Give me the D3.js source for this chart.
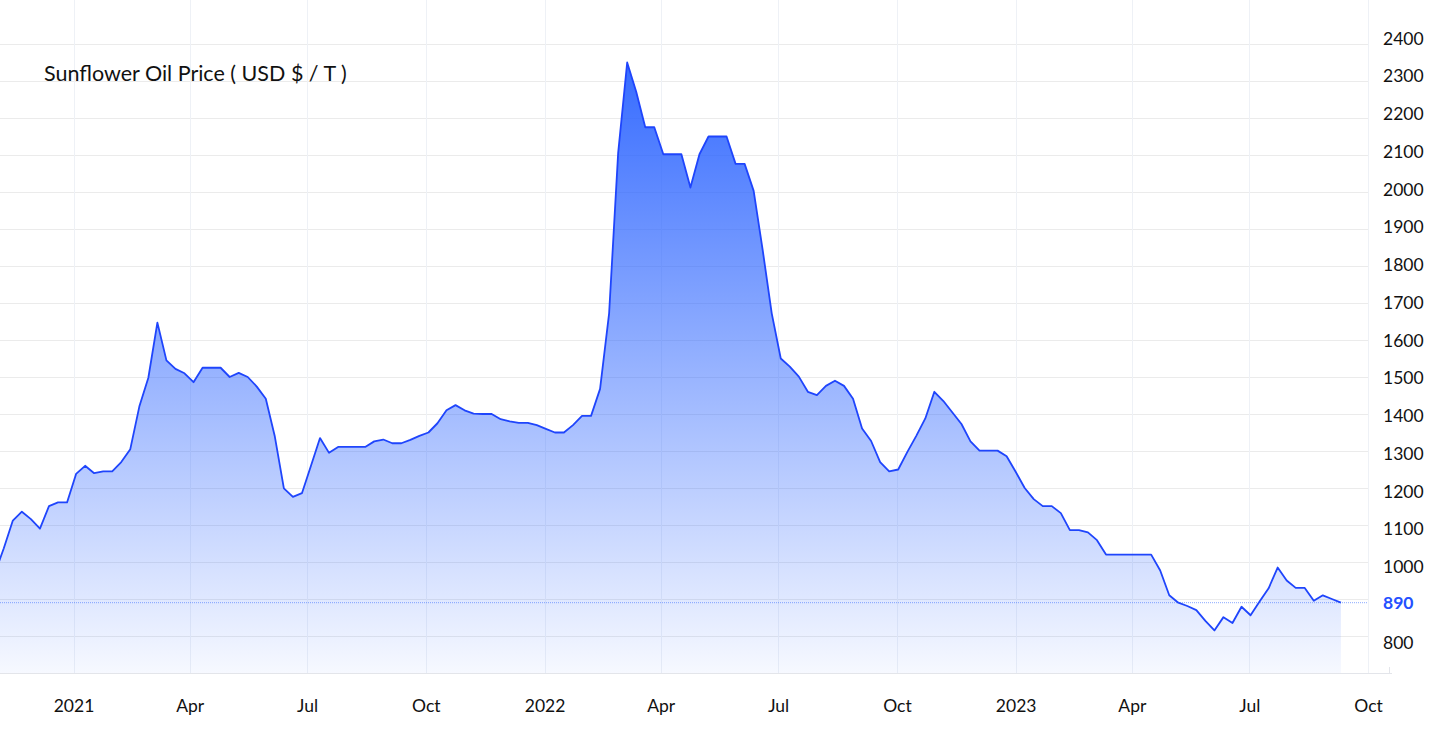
<!DOCTYPE html>
<html>
<head>
<meta charset="utf-8">
<script src="https://cdn.jsdelivr.net/npm/d3@7"></script>
<style>
  html, body { margin: 0; padding: 0; background: #ffffff; }
  svg { display: block; font-family: Lato, "Open Sans", sans-serif; }
</style>
</head>
<body>
<svg id="chart" width="1433" height="730"></svg>
<script>
// ---- data (weekly observations, first week starting 2020-11-01) ----
const startDate = "2020-11-01";
const prices = [
  970, 1037, 1112, 1136, 1116, 1090, 1151, 1161, 1161, 1238,
  1260, 1240, 1245, 1245, 1270, 1305, 1420, 1498, 1647, 1545,
  1522, 1510, 1486, 1525, 1525, 1525, 1500, 1511, 1500, 1474,
  1441, 1339, 1199, 1176, 1186, 1260, 1335, 1295, 1311, 1311,
  1311, 1311, 1326, 1331, 1321, 1321, 1330, 1341, 1350, 1375,
  1410, 1424, 1410, 1401, 1400, 1400, 1386, 1380, 1376, 1376,
  1370, 1360, 1350, 1350, 1370, 1395, 1395, 1468, 1672, 2105,
  2350, 2271, 2175, 2175, 2102, 2102, 2102, 2012, 2102, 2150,
  2150, 2150, 2076, 2076, 2003, 1843, 1672, 1550, 1528, 1501,
  1460, 1451, 1476, 1490, 1476, 1441, 1361, 1327, 1270, 1245,
  1250, 1297, 1341, 1388, 1460, 1435, 1404, 1373, 1326, 1301,
  1301, 1301, 1286, 1244, 1200, 1170, 1151, 1151, 1132, 1086,
  1086, 1080, 1059, 1020, 1020, 1020, 1020, 1020, 1020, 977,
  910, 890, 881, 870, 841, 815, 851, 835, 879, 856,
  893, 929, 985, 950, 930, 930, 895, 910, 900, 890
];
const yTicks = [800, 900, 1000, 1100, 1200, 1300, 1400, 1500, 1600, 1700, 1800, 1900, 2000, 2100, 2200, 2300, 2400];
const yLabelTicks = [800, 1000, 1100, 1200, 1300, 1400, 1500, 1600, 1700, 1800, 1900, 2000, 2100, 2200, 2300, 2400];
const xTickDates = ["2021-01-01", "2021-04-01", "2021-07-01", "2021-10-01", "2022-01-01", "2022-04-01",
                    "2022-07-01", "2022-10-01", "2023-01-01", "2023-04-01", "2023-07-01", "2023-10-01"];
const xTickLabels = ["2021", "Apr", "Jul", "Oct", "2022", "Apr", "Jul", "Oct", "2023", "Apr", "Jul", "Oct"];
const titleText = "Sunflower Oil Price ( USD $ / T )";
const lastValue = 890;

// ---- build table ----
const parse = d3.utcParse("%Y-%m-%d");
const t0 = parse(startDate);
const data = prices.map((v, i) => ({ date: d3.utcDay.offset(t0, 7 * i), value: v }));

// ---- layout ----
const svg = d3.select("#chart");
const plotLeft = 0, plotRight = 1368, plotTop = 0, plotBottom = 673;

const x = d3.scaleUtc()
  .domain([parse("2021-01-01"), parse("2023-10-01")])
  .range([73.5, 1368]);
const y = d3.scaleLinear().domain([700, 2400]).range([673, 44]);
const yLab = d3.scaleLinear().domain([800, 2400]).range([642, 38]);

const defs = svg.append("defs");
defs.append("clipPath").attr("id", "clip")
  .append("rect").attr("x", plotLeft).attr("y", plotTop)
  .attr("width", plotRight - plotLeft).attr("height", plotBottom - plotTop);

const grad = defs.append("linearGradient").attr("id", "fillGrad")
  .attr("gradientUnits", "userSpaceOnUse")
  .attr("x1", 0).attr("x2", 0).attr("y1", y(2350)).attr("y2", plotBottom);
grad.append("stop").attr("offset", "0%").attr("stop-color", "#2962ff").attr("stop-opacity", 0.94);
grad.append("stop").attr("offset", "100%").attr("stop-color", "#2962ff").attr("stop-opacity", 0.04);

// ---- grid ----
const grid = svg.append("g");
grid.selectAll("line.h").data(yTicks).join("line")
  .attr("class", "h")
  .attr("x1", plotLeft).attr("x2", plotRight)
  .attr("y1", d => Math.round(y(d)) + 0.5).attr("y2", d => Math.round(y(d)) + 0.5)
  .attr("stroke", "#ebebeb").attr("stroke-width", 1);
grid.selectAll("line.v").data(xTickDates).join("line")
  .attr("class", "v")
  .attr("x1", d => Math.round(x(parse(d))) + 0.5).attr("x2", d => Math.round(x(parse(d))) + 0.5)
  .attr("y1", 0).attr("y2", plotBottom)
  .attr("stroke", "#eef1f6").attr("stroke-width", 1);

// ---- area + line ----
const plot = svg.append("g").attr("clip-path", "url(#clip)");
const area = d3.area().x(d => x(d.date)).y0(plotBottom).y1(d => y(d.value));
const line = d3.line().x(d => x(d.date)).y(d => y(d.value));
plot.append("path").datum(data).attr("d", area).attr("fill", "url(#fillGrad)");
plot.append("path").datum(data).attr("d", line)
  .attr("fill", "none").attr("stroke", "#1f45fc").attr("stroke-width", 1.8)
  .attr("stroke-linejoin", "round");

// last value line
svg.append("line")
  .attr("x1", plotLeft).attr("x2", plotRight)
  .attr("y1", y(lastValue)).attr("y2", y(lastValue))
  .attr("stroke", "#2962ff").attr("stroke-opacity", 0.55)
  .attr("stroke-width", 1).attr("stroke-dasharray", "1,1");

// ---- bottom axis ----
svg.append("line")
  .attr("x1", 0).attr("x2", 1392).attr("y1", plotBottom + 0.5).attr("y2", plotBottom + 0.5)
  .attr("stroke", "#e3e5ea");
svg.append("line")
  .attr("x1", 1389.5).attr("x2", 1389.5).attr("y1", plotBottom - 6).attr("y2", plotBottom)
  .attr("stroke", "#e3e5ea");

const xAxis = d3.axisBottom(x)
  .tickValues(xTickDates.map(parse))
  .tickFormat((d, i) => xTickLabels[i])
  .tickSize(0).tickPadding(0);
const gx = svg.append("g").attr("transform", `translate(0,${plotBottom})`).call(xAxis);
gx.select(".domain").remove();
gx.selectAll("text")
  .attr("y", 39).attr("dy", null)
  .attr("font-family", "Lato, 'Open Sans', sans-serif")
  .attr("font-size", 17.5).attr("fill", "#111");

// ---- right axis ----
const yAxis = d3.axisRight(yLab).tickValues(yLabelTicks).tickFormat(d3.format("d"))
  .tickSize(0).tickPadding(0);
const gy = svg.append("g").attr("transform", "translate(1383,0)").call(yAxis);
gy.select(".domain").remove();
gy.selectAll("text")
  .attr("x", 0).attr("dy", "0.35em")
  .attr("font-family", "Lato, 'Open Sans', sans-serif")
  .attr("font-size", 17.5).attr("fill", "#111");

// last value label
svg.append("text")
  .attr("x", 1383).attr("y", y(lastValue)).attr("dy", "0.35em")
  .attr("font-family", "Lato, 'Open Sans', sans-serif")
  .attr("font-size", 17.5).attr("font-weight", "bold").attr("fill", "#2450ff")
  .text(lastValue);

// ---- title ----
svg.append("text")
  .attr("x", 44).attr("y", 81)
  .attr("font-family", "Lato, 'Open Sans', sans-serif")
  .attr("font-size", 21.5).attr("fill", "#111")
  .text(titleText);
</script>
</body>
</html>
